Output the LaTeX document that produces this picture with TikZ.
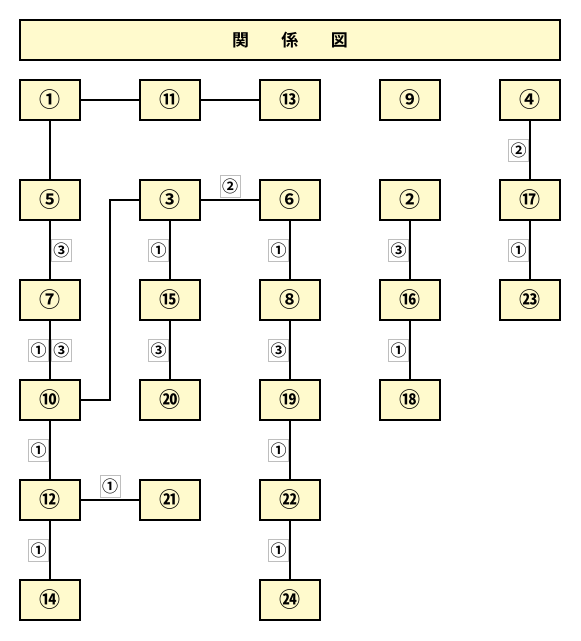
\documentclass[tikz,border=0pt]{standalone}
\usepackage{fontspec}
\setmainfont{Noto Sans CJK JP}[BoldFont={Noto Sans CJK JP Bold}]
\usetikzlibrary{positioning}
\definecolor{kkYellow}{RGB}{255,250,205}
\definecolor{kkGray}{RGB}{190,190,190}

\begin{document}
\begin{tikzpicture}[
      x=1pt, y=-1pt,
      member/.style={draw=black, line width=2pt, fill=kkYellow, minimum width=60pt, minimum height=40pt, inner sep=0pt, font=\fontsize{21}{21}\selectfont\bfseries},
      headline/.style={member, minimum width=540pt, font=\fontsize{17}{17}\selectfont\bfseries},
      tag/.style={draw=kkGray, line width=0.8pt, fill=white, minimum width=20pt, minimum height=22pt, inner sep=0pt, font=\fontsize{16}{16}\selectfont\bfseries},
      link/.style={line width=2pt, black},
      node distance=58pt and 58pt
    ]
      \useasboundingbox (0,0) rectangle (581,641);
      \node[headline] (title) at (290,40) {関\hspace{1.9em}係\hspace{1.9em}図};

      % row 1
      \node[member] (n1) at (50,100) {①};
      \node[member, right=of n1] (n11) {⑪};
      \node[member, right=of n11] (n13) {⑬};
      \node[member, right=of n13] (n9) {⑨};
      \node[member, right=of n9] (n4) {④};
      % row 2
      \node[member, below=of n1] (n5) {⑤};
      \node[member, below=of n11] (n3) {③};
      \node[member, below=of n13] (n6) {⑥};
      \node[member, below=of n9] (n2) {②};
      \node[member, below=of n4] (n17) {⑰};
      % row 3
      \node[member, below=of n5] (n7) {⑦};
      \node[member, below=of n3] (n15) {⑮};
      \node[member, below=of n6] (n8) {⑧};
      \node[member, below=of n2] (n16) {⑯};
      \node[member, below=of n17] (n23) {㉓};
      % row 4
      \node[member, below=of n7] (n10) {⑩};
      \node[member, below=of n15] (n20) {⑳};
      \node[member, below=of n8] (n19) {⑲};
      \node[member, below=of n16] (n18) {⑱};
      % row 5
      \node[member, below=of n10] (n12) {⑫};
      \node[member, right=of n12] (n21) {㉑};
      \node[member, below=of n19] (n22) {㉒};
      % row 6
      \node[member, below=of n12] (n14) {⑭};
      \node[member, below=of n22] (n24) {㉔};

      \draw[link] (n1) -- (n11);
      \draw[link] (n11) -- (n13);
      \draw[link] (n1) -- (n5);
      \draw[link] (n5) -- node[tag, right=1pt] {③} (n7);
      \draw[link] (n7) -- node[tag, left=1pt] {①} node[tag, right=1pt] {③} (n10);
      \draw[link] (n10) -- node[tag, left=1pt] {①} (n12);
      \draw[link] (n12) -- node[tag, left=1pt] {①} (n14);
      \draw[link] (n12) -- node[tag, above=2pt] {①} (n21);
      \draw[link] (n3.west) -- ++(-29,0) |- (n10.east);
      \draw[link] (n3) -- node[tag, above=2pt] {②} (n6);
      \draw[link] (n3) -- node[tag, left=1pt] {①} (n15);
      \draw[link] (n15) -- node[tag, left=1pt] {③} (n20);
      \draw[link] (n6) -- node[tag, left=1pt] {①} (n8);
      \draw[link] (n8) -- node[tag, left=1pt] {③} (n19);
      \draw[link] (n19) -- node[tag, left=1pt] {①} (n22);
      \draw[link] (n22) -- node[tag, left=1pt] {①} (n24);
      \draw[link] (n2) -- node[tag, left=1pt] {③} (n16);
      \draw[link] (n16) -- node[tag, left=1pt] {①} (n18);
      \draw[link] (n4) -- node[tag, left=1pt] {②} (n17);
      \draw[link] (n17) -- node[tag, left=1pt] {①} (n23);
    \end{tikzpicture}
\end{document}
